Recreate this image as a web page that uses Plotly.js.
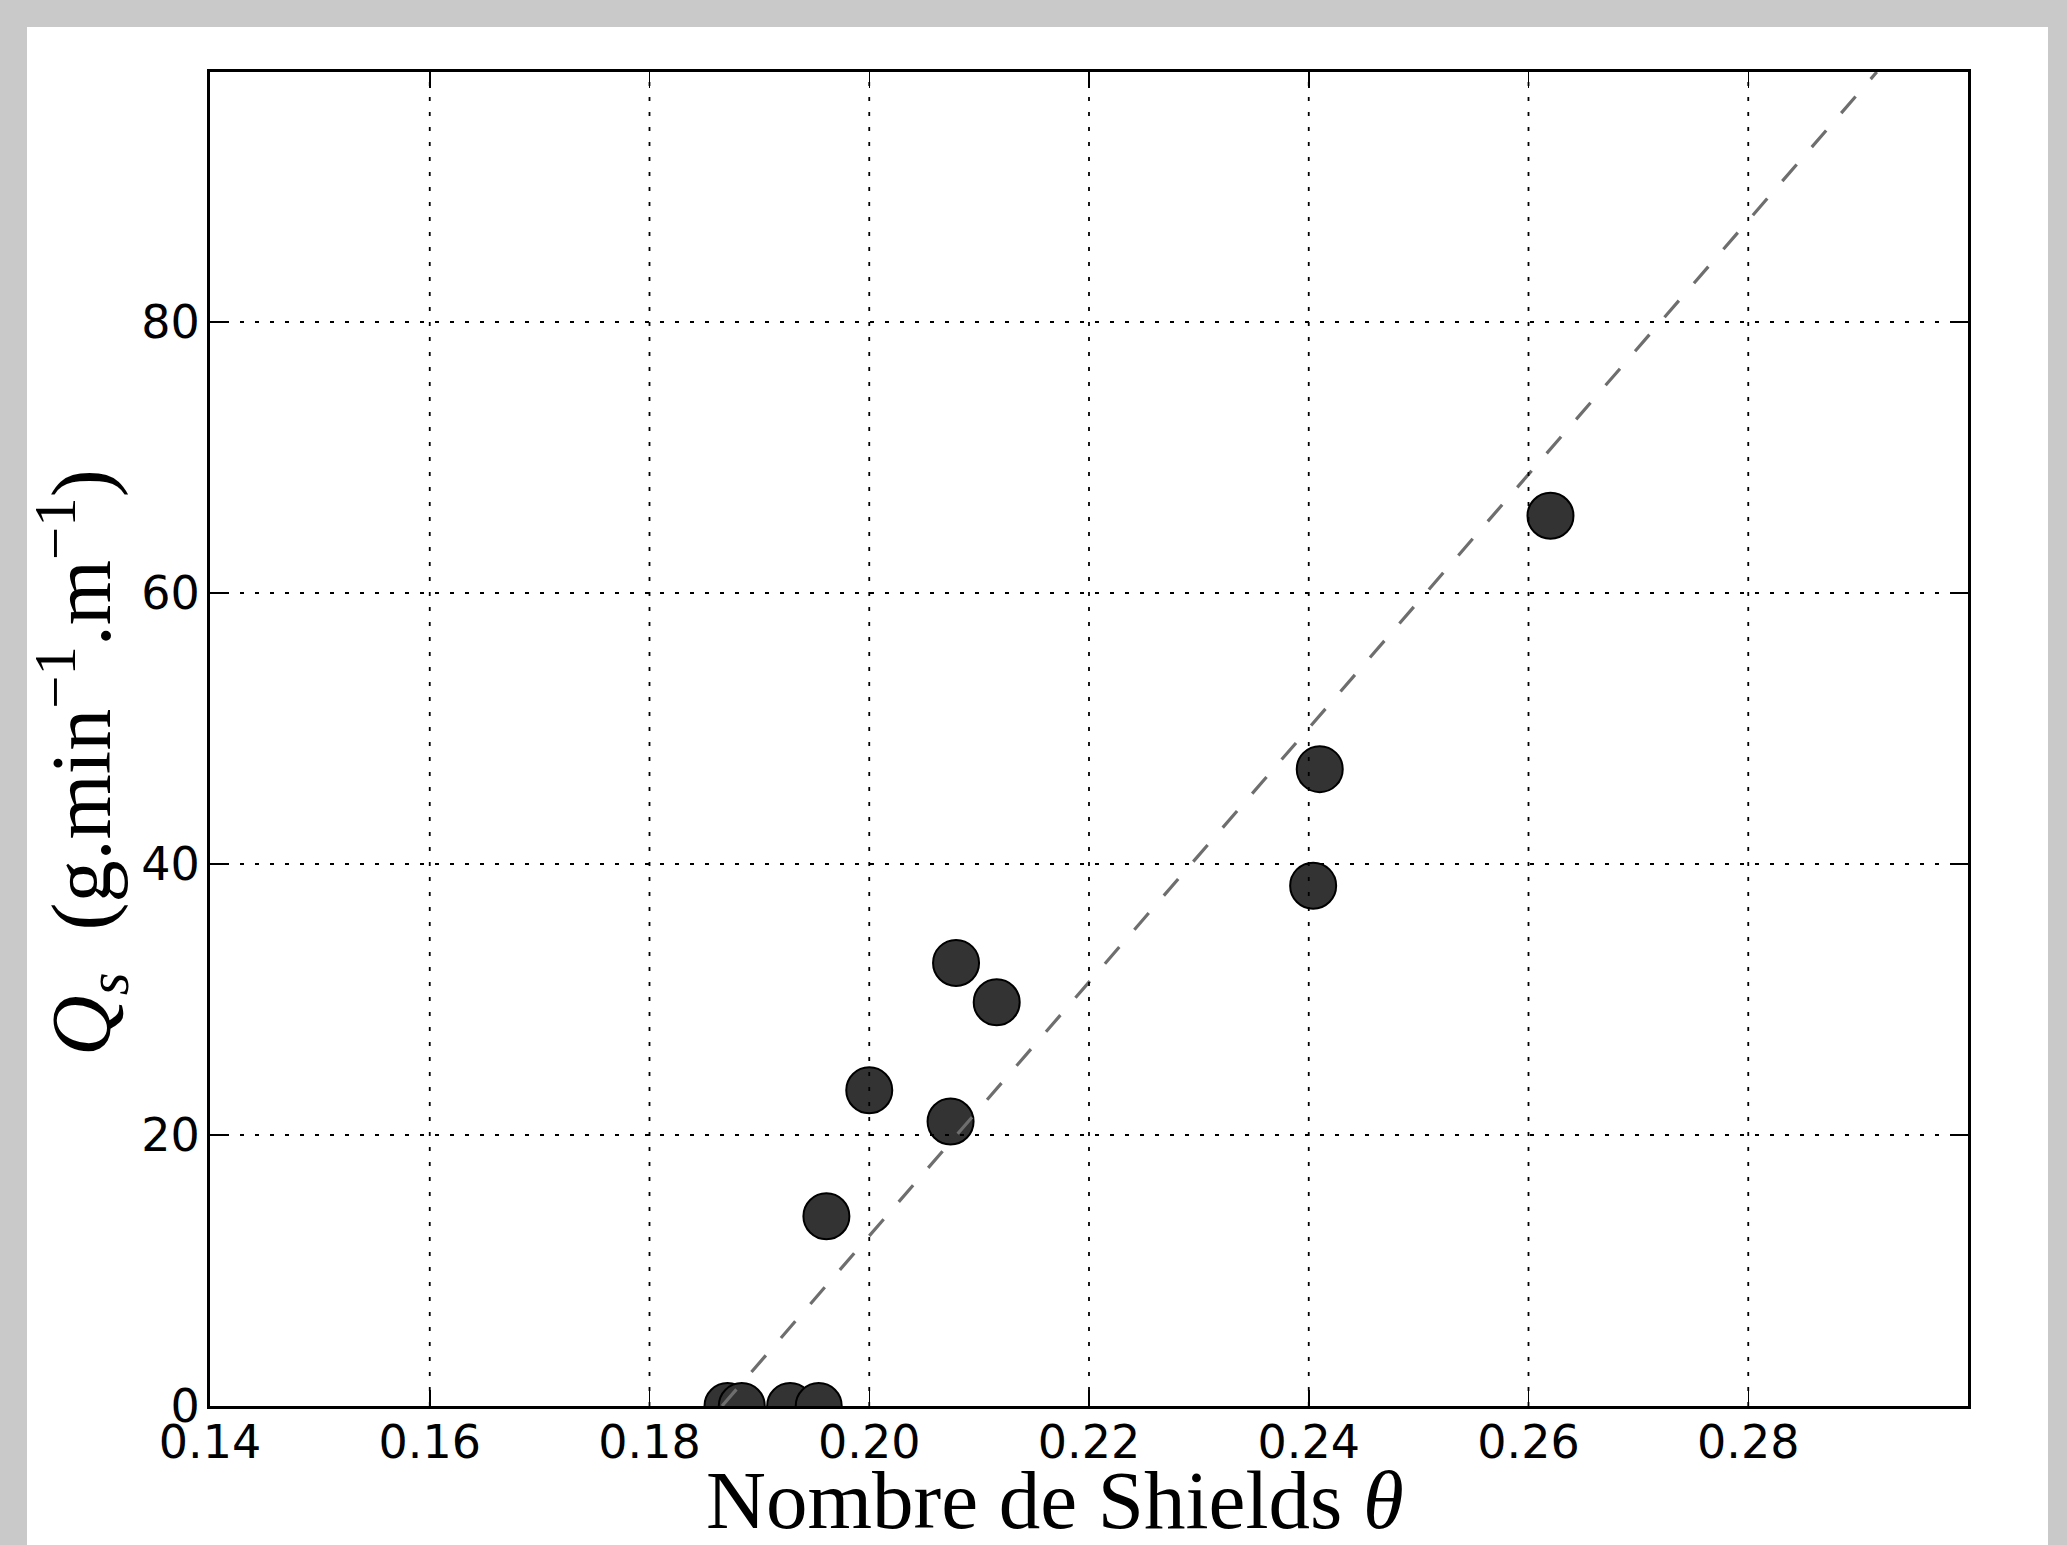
<!DOCTYPE html>
<html>
<head>
<meta charset="utf-8">
<script src="https://cdn.plot.ly/plotly-3.0.1.min.js"></script>
<style>
  html, body { margin: 0; padding: 0; background: #c9c9c9; }
  #chart { width: 2067px; height: 1545px; }
</style>
</head>
<body>
<div id="chart"></div>
<script>
// ---- data ----
const theta = [0.1871, 0.1884, 0.1928, 0.1954, 0.1961, 0.2000, 0.2074, 0.2079, 0.2116, 0.2404, 0.2410, 0.2620];
const qs    = [0, 0, 0, 0, 14.0, 23.3, 21.0, 32.7, 29.8, 38.4, 47.0, 65.7];

const fitTheta = [0.1866, 0.2917];
const fitQs    = [0, 98.45];

const xTicks = [0.14, 0.16, 0.18, 0.20, 0.22, 0.24, 0.26, 0.28];
const yTicks = [0, 20, 40, 60, 80];
const xRange = [0.14, 0.30];
const yRange = [0, 98.45];

const xTitle = 'Nombre de Shields <i>θ</i>';
const yTitle = '<i>Q</i><sub><i>s</i></sub>  (g.min<sup>−1</sup>.m<sup>−1</sup>)';

// ---- layout geometry ----
const W = 2067, H = 1545;
const M = {l: 210, r: 99, t: 72, b: 139};
const pw = W - M.l - M.r, ph = H - M.t - M.b;
const px = v => (v - M.l) / pw;          // pixel -> paper x
const py = v => (H - M.b - v) / ph;      // pixel -> paper y

const traces = [
  {
    type: 'scatter', mode: 'markers', x: theta, y: qs,
    marker: {size: 46, color: '#333333', line: {color: '#000000', width: 2}},
    hoverinfo: 'skip', showlegend: false
  },
  {
    type: 'scatter', mode: 'lines', x: fitTheta, y: fitQs,
    line: {color: '#6e6e6e', width: 3.2, dash: '22px,23px'},
    hoverinfo: 'skip', showlegend: false
  }
];

const gridStyle = {color: '#000000', width: 1.8, dash: '4px,11px'};
const shapes = [
  // white panel on the grey frame
  {type: 'rect', xref: 'paper', yref: 'paper', layer: 'below',
   x0: px(27), x1: px(2048), y0: py(1545), y1: py(27),
   fillcolor: '#ffffff', line: {width: 0}}
];
xTicks.slice(1).forEach(t => shapes.push({
  type: 'line', xref: 'x', yref: 'paper', layer: 'above',
  x0: t, x1: t, y0: 0, y1: 1, line: gridStyle
}));
yTicks.slice(1).forEach(t => shapes.push({
  type: 'line', xref: 'paper', yref: 'y', layer: 'above',
  x0: 0, x1: 1, y0: t, y1: t, line: gridStyle
}));

const axisCommon = {
  showgrid: false, zeroline: false,
  showline: true, linecolor: '#000000', linewidth: 3, mirror: 'ticks',
  ticks: 'inside', ticklen: 16, tickwidth: 1.5, tickcolor: '#000000',
  tickfont: {family: 'DejaVu Sans', size: 46, color: '#000000'},
  layer: 'above traces'
};

const layout = {
  width: W, height: H,
  margin: M,
  paper_bgcolor: '#c9c9c9',
  plot_bgcolor: '#ffffff',
  showlegend: false,
  xaxis: Object.assign({}, axisCommon, {
    range: xRange, tickmode: 'array', tickvals: xTicks,
    ticktext: xTicks.map(v => v.toFixed(2)),
    ticklabelstandoff: -6
  }),
  yaxis: Object.assign({}, axisCommon, {
    range: yRange, tickmode: 'array', tickvals: yTicks,
    ticktext: yTicks.map(v => String(v)),
    ticklabelstandoff: -2
  }),
  shapes: shapes,
  annotations: [
    {text: xTitle, xref: 'paper', yref: 'paper', x: px(1055), y: py(1500),
     xanchor: 'center', yanchor: 'middle', showarrow: false,
     font: {family: 'Liberation Serif', size: 83, color: '#000000'}},
    {text: yTitle, xref: 'paper', yref: 'paper', x: px(82), y: py(763),
     xanchor: 'center', yanchor: 'middle', showarrow: false, textangle: -90,
     font: {family: 'Liberation Serif', size: 84, color: '#000000'}}
  ]
};

Plotly.newPlot('chart', traces, layout, {displayModeBar: false, staticPlot: true});
</script>
</body>
</html>
